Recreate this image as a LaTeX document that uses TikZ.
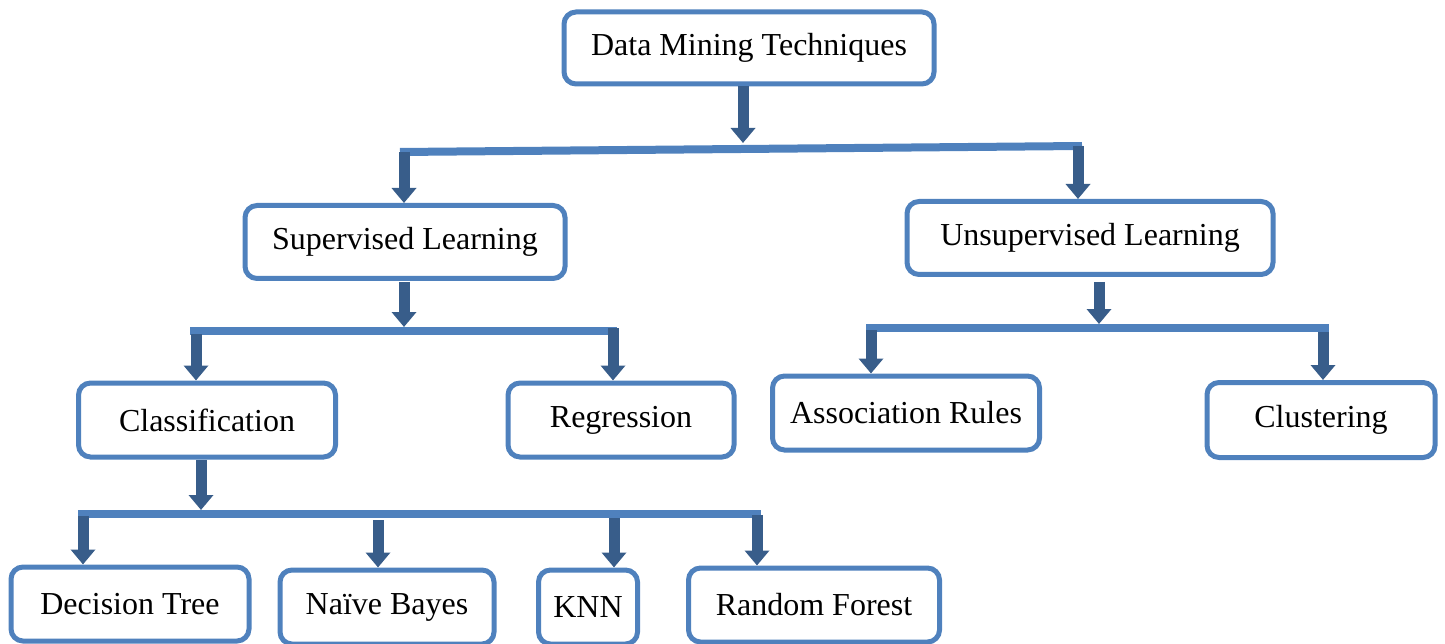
\documentclass[tikz,border=0pt]{standalone}
\usepackage{fontspec}
\setmainfont{Liberation Serif}
\usetikzlibrary{arrows.meta}
\definecolor{boxblue}{HTML}{4F81BD}
\definecolor{arrowblue}{HTML}{385D8A}

\begin{document}
\begin{tikzpicture}[x=1pt, y=-1pt,
    box/.style={draw=boxblue, line width=5pt, rounded corners=12pt, fill=white,
        inner sep=0pt, font=\fontsize{32}{37}\selectfont},
    bar/.style={draw=boxblue, line width=8pt},
    down/.style={draw=arrowblue, line width=11pt, -{Triangle[width=24pt, length=15pt]}}]
        \useasboundingbox (0,0) rectangle (1445,644);

        % 상단 노드
        \node[box, minimum width=370pt, minimum height=72pt] (dmt) at (749, 48) {Data Mining Techniques};

        % 두 번째 단계
        \node[box, minimum width=320pt, minimum height=73pt] (sup) at (405, 242) {Supervised Learning};
        \node[box, minimum width=366pt, minimum height=73pt] (unsup) at (1090, 238) {Unsupervised Learning};

        % 세 번째 단계
        \node[box, minimum width=257pt, minimum height=74pt] (cls) at (207, 420) {Classification};
        \node[box, minimum width=226pt, minimum height=74pt] (reg) at (621, 420) {Regression};
        \node[box, minimum width=267pt, minimum height=74pt] (assoc) at (906, 413) {Association Rules};
        \node[box, minimum width=228pt, minimum height=75pt] (clust) at (1321, 420) {Clustering};

        % 마지막 단계
        \node[box, minimum width=238pt, minimum height=74pt] (dtree) at (130, 604) {Decision Tree};
        \node[box, minimum width=214pt, minimum height=74pt] (nbayes) at (387, 607) {Naïve Bayes};
        \node[box, minimum width=99pt, minimum height=74pt] (knn) at (588, 607) {KNN};
        \node[box, minimum width=251pt, minimum height=74pt] (rforest) at (814, 605) {Random Forest};

        % 가로 막대 좌표
        \coordinate (b1l) at (400, 152);
        \coordinate (b1r) at (1082, 146);
        \coordinate (b2l) at (190, 331);
        \coordinate (b2r) at (617, 331);
        \coordinate (b3l) at (866, 328);
        \coordinate (b3r) at (1329, 328);
        \coordinate (b4l) at (78, 514);
        \coordinate (b4r) at (761, 514);
        \draw[bar] (b1l) -- (b1r);
        \draw[bar] (b2l) -- (b2r);
        \draw[bar] (b3l) -- (b3r);
        \draw[bar] (b4l) -- (b4r);

        % 화살표
        \coordinate (t1) at (743, 86);
        \coordinate (h1) at (743, 143);
        \draw[down] (t1) -- (h1);
        \coordinate (t2) at (404, 152);
        \draw[down] (t2) -- (sup.north -| t2);
        \coordinate (t3) at (1078, 146);
        \draw[down] (t3) -- (unsup.north -| t3);

        \coordinate (t4) at (404, 282);
        \coordinate (h4) at (404, 327);
        \draw[down] (t4) -- (h4);
        \coordinate (t5) at (196, 334);
        \draw[down] (t5) -- (cls.north -| t5);
        \coordinate (t6) at (613, 328);
        \draw[down] (t6) -- (reg.north -| t6);

        \coordinate (t7) at (1099, 282);
        \coordinate (h7) at (1099, 324);
        \draw[down] (t7) -- (h7);
        \coordinate (t8) at (871, 330);
        \draw[down] (t8) -- (assoc.north -| t8);
        \coordinate (t9) at (1323, 332);
        \draw[down] (t9) -- (clust.north -| t9);

        \coordinate (t10) at (201, 460);
        \coordinate (h10) at (201, 510);
        \draw[down] (t10) -- (h10);
        \coordinate (t11) at (83, 516);
        \draw[down] (t11) -- (dtree.north -| t11);
        \coordinate (t12) at (378, 520);
        \draw[down] (t12) -- (nbayes.north -| t12);
        \coordinate (t13) at (614, 518);
        \draw[down] (t13) -- (knn.north -| t13);
        \coordinate (t14) at (757, 515);
        \draw[down] (t14) -- (rforest.north -| t14);
    \end{tikzpicture}
\end{document}
